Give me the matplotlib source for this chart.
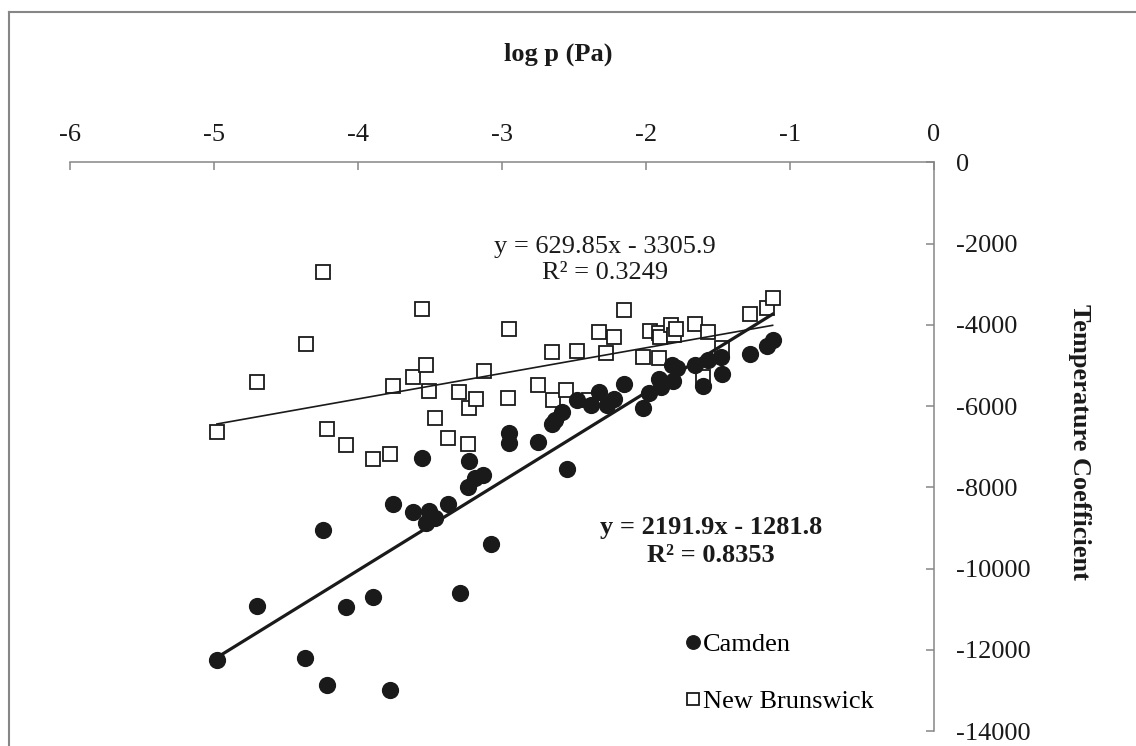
"""Temperature coefficient vs log vapour pressure, Camden and New Brunswick."""

import matplotlib

matplotlib.use("Agg")
import matplotlib.pyplot as plt
import numpy as np
from matplotlib.lines import Line2D

plt.rcParams["font.family"] = ["Liberation Serif", "DejaVu Serif"]

W, H = 1136, 746
FS = 19

camden_x = [
    -4.977, -4.701, -4.364, -4.241, -4.211, -4.079, -3.894, -3.774, -3.755, -3.616,
    -3.556, -3.524, -3.507, -3.466, -3.375, -3.292, -3.237, -3.228, -3.186, -3.128,
    -3.072, -2.952, -2.952, -2.751, -2.654, -2.631, -2.580, -2.549, -2.480, -2.383,
    -2.328, -2.272, -2.221, -2.150, -2.018, -1.978, -1.909, -1.897, -1.821, -1.809,
    -1.782, -1.659, -1.601, -1.567, -1.480, -1.473, -1.279, -1.161, -1.120,
]
camden_y = [
    -12256, -10919, -12199, -9054, -12864, -10951, -10697, -12988, -8421, -8618,
    -7273, -8874, -8586, -8766, -8421, -10598, -8003, -7355, -7766, -7700,
    -9391, -6673, -6904, -6894, -6430, -6345, -6155, -7544, -5852, -5983,
    -5648, -5983, -5820, -5451, -6042, -5687, -5335, -5539, -4990, -5384,
    -5057, -4990, -5500, -4867, -4801, -5212, -4712, -4515, -4374,
]

nb_x = [
    -4.977, -4.701, -4.361, -4.240, -4.211, -4.081, -3.894, -3.774, -3.755, -3.614,
    -3.554, -3.524, -3.505, -3.466, -3.375, -3.295, -3.234, -3.228, -3.179, -3.126,
    -2.959, -2.952, -2.747, -2.654, -2.643, -2.554, -2.480, -2.397, -2.328, -2.274,
    -2.221, -2.150, -2.018, -1.971, -1.909, -1.909, -1.902, -1.826, -1.803, -1.789,
    -1.661, -1.601, -1.567, -1.472, -1.279, -1.159, -1.120,
]
nb_y = [
    -6640, -5409, -4465, -2700, -6559, -6960, -7313, -7182, -5515, -5278,
    -3611, -4983, -5631, -6303, -6780, -5655, -6943, -6042, -5820, -5146,
    -5795, -4111, -5490, -4662, -5852, -5606, -4645, -5852, -4185, -4695,
    -4300, -3643, -4801, -4145, -4825, -4210, -4308, -4005, -4251, -4111,
    -3973, -5278, -4185, -4579, -3741, -3594, -3340,
]

# trendline coefficients as printed on the chart
camden_fit = (2191.9, -1281.8, 0.8353)
nb_fit = (629.85, -3305.9, 0.3249)

x_ticks = [-6, -5, -4, -3, -2, -1, 0]
y_ticks = [0, -2000, -4000, -6000, -8000, -10000, -12000, -14000]

GRAY = "#868686"
INK = "#1a1a1a"

fig = plt.figure(figsize=(W / 100, H / 100), dpi=100)
ax = fig.add_axes([69.5 / W, 1 - 731 / H, (934 - 69.5) / W, (731 - 162.4) / H])

ax.plot(nb_x, nb_y, linestyle="none", marker="s", markersize=10.2,
        markerfacecolor="white", markeredgecolor=INK, markeredgewidth=1.3,
        label="New Brunswick", zorder=2)
ax.plot(camden_x, camden_y, linestyle="none", marker="o", markersize=11.4,
        markerfacecolor=INK, markeredgecolor=INK, label="Camden", zorder=3)

# trendlines over each series' x range
cx = np.array([min(camden_x), max(camden_x)])
ax.plot(cx, camden_fit[0] * cx + camden_fit[1], color=INK, lw=2.3, zorder=4)
nx = np.array([min(nb_x), max(nb_x)])
ax.plot(nx, nb_fit[0] * nx + nb_fit[1], color=INK, lw=1.2, zorder=4)

ax.text(0.6194, 0.829,
        f"y = {nb_fit[0]}x - {abs(nb_fit[1])}\nR² = {nb_fit[2]}",
        transform=ax.transAxes, ha="center", va="center", fontsize=FS,
        linespacing=1.25, color=INK)
ax.text(0.742, 0.333,
        f"y = {camden_fit[0]}x - {abs(camden_fit[1])}\nR² = {camden_fit[2]}",
        transform=ax.transAxes, ha="center", va="center", fontsize=FS,
        fontweight="bold", linespacing=1.25, color=INK)

ax.set_xlim(-6, 0)
ax.set_ylim(-14000, 0)
ax.set_xticks(x_ticks)
ax.set_xticklabels([str(t) for t in x_ticks])
ax.set_yticks(y_ticks)
ax.set_yticklabels([str(t) for t in y_ticks])

ax.xaxis.tick_top()
ax.yaxis.tick_right()
ax.tick_params(axis="x", direction="in", length=5.5, width=1.1, color=GRAY,
               pad=12, labelsize=FS, labelcolor=INK)
ax.tick_params(axis="y", direction="in", length=5.5, width=1.1, color=GRAY,
               pad=16, labelsize=FS, labelcolor=INK)
for side in ("left", "bottom"):
    ax.spines[side].set_visible(False)
for side in ("top", "right"):
    ax.spines[side].set_color(GRAY)
    ax.spines[side].set_linewidth(1.1)

handles, labels = ax.get_legend_handles_labels()
order = [1, 0]
ax.legend([handles[i] for i in order], [labels[i] for i in order],
          loc="upper left", bbox_to_anchor=(684.8 / W, 1 - 633 / H),
          bbox_transform=fig.transFigure, frameon=False, fontsize=FS,
          borderpad=0, borderaxespad=0, handlelength=0.6, handletextpad=0.1,
          labelspacing=1.25, markerscale=0.85)

fig.text(558 / W, 1 - 54 / H, "log p (Pa)", ha="center", va="center",
         fontsize=FS, fontweight="bold", color=INK)
fig.text(1080 / W, 1 - 442 / H, "Temperature Coefficient", rotation=270,
         ha="center", va="center", fontsize=FS, fontweight="bold", color=INK)

# chart-area border (only left and top edges are inside the crop)
fig.add_artist(Line2D([9 / W, 9 / W], [0, 1 - 11.5 / H], transform=fig.transFigure,
                      color=GRAY, lw=1.5))
fig.add_artist(Line2D([9 / W, 1], [1 - 11.5 / H, 1 - 11.5 / H], transform=fig.transFigure,
                      color=GRAY, lw=1.5))

fig.savefig("out.png", dpi=100)
